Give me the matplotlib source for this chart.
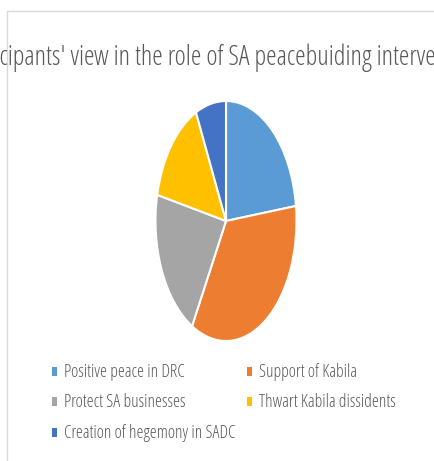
import matplotlib
matplotlib.use("Agg")
import matplotlib.pyplot as plt
from matplotlib.patches import Rectangle

labels = ["Positive peace in DRC", "Support of Kabila", "Protect SA businesses",
          "Thwart Kabila dissidents", "Creation of hegemony in SADC"]
values = [23, 35, 20.5, 14.5, 7]
colors = ["#5B9BD5", "#ED7D31", "#A5A5A5", "#FFC000", "#4472C4"]
title = "Participants' view in the role of SA peacebuiding intervention"

FAM = ["Open Sans", "DejaVu Sans"]
STRETCH = "condensed"
WEIGHT = "medium"
TXT = "#595959"
plt.rcParams['font.family'] = FAM

W, H = 435, 461
fig = plt.figure(figsize=(W / 100, H / 100), dpi=100)
r = fig.canvas.get_renderer()


def px(x, y):
    return x / W, (H - y) / H


def width_at(text, size):
    t = fig.text(0, 0, text, fontsize=size, fontstretch=STRETCH, fontweight=WEIGHT)
    w = t.get_window_extent(r).width
    t.remove()
    return w


# chart border (partly cut off)
fig.patches.append(Rectangle(px(7, 600), 1.2, (600 - 11) / H, transform=fig.transFigure,
                             fill=False, edgecolor="#D9D9D9", linewidth=1))

ax = fig.add_axes([155.5 / W, (H - 341) / H, 141 / W, 240 / H])
ax.pie(values, colors=colors, startangle=90, counterclock=False,
       wedgeprops=dict(edgecolor="white", linewidth=1.5))
ax.set_aspect('auto')
ax.set_xlim(-1, 1)
ax.set_ylim(-1, 1)
ax.axis('off')

# title sized so that the visible part matches the reference
vis = "cipants' view in the role of SA peacebuiding interv"
tsize = 10 * 429 / width_at(vis, 10)
pre_w = width_at("Parti", tsize)
fig.text(*px(-1 - pre_w, 65), title, ha='left', va='baseline',
         fontsize=tsize, fontstretch=STRETCH, fontweight=WEIGHT, color=TXT)

# legend (row-wise, two columns)
lsize = 10 * 121 / width_at(labels[0], 10)
col_x = [52, 247]
row_y = [376.5, 406.5, 437.5]
for i, (lab, c) in enumerate(zip(labels, colors)):
    rr, cc = divmod(i, 2)
    x0, yb = col_x[cc], row_y[rr]
    fig.patches.append(Rectangle(px(x0, yb - 1), 5 / W, 9 / H, transform=fig.transFigure,
                                 facecolor=c, edgecolor='none'))
    fig.text(*px(x0 + 12, yb), lab, ha='left', va='baseline', fontsize=lsize,
             fontstretch=STRETCH, fontweight=WEIGHT, color=TXT)

fig.savefig("out.png", dpi=100)
